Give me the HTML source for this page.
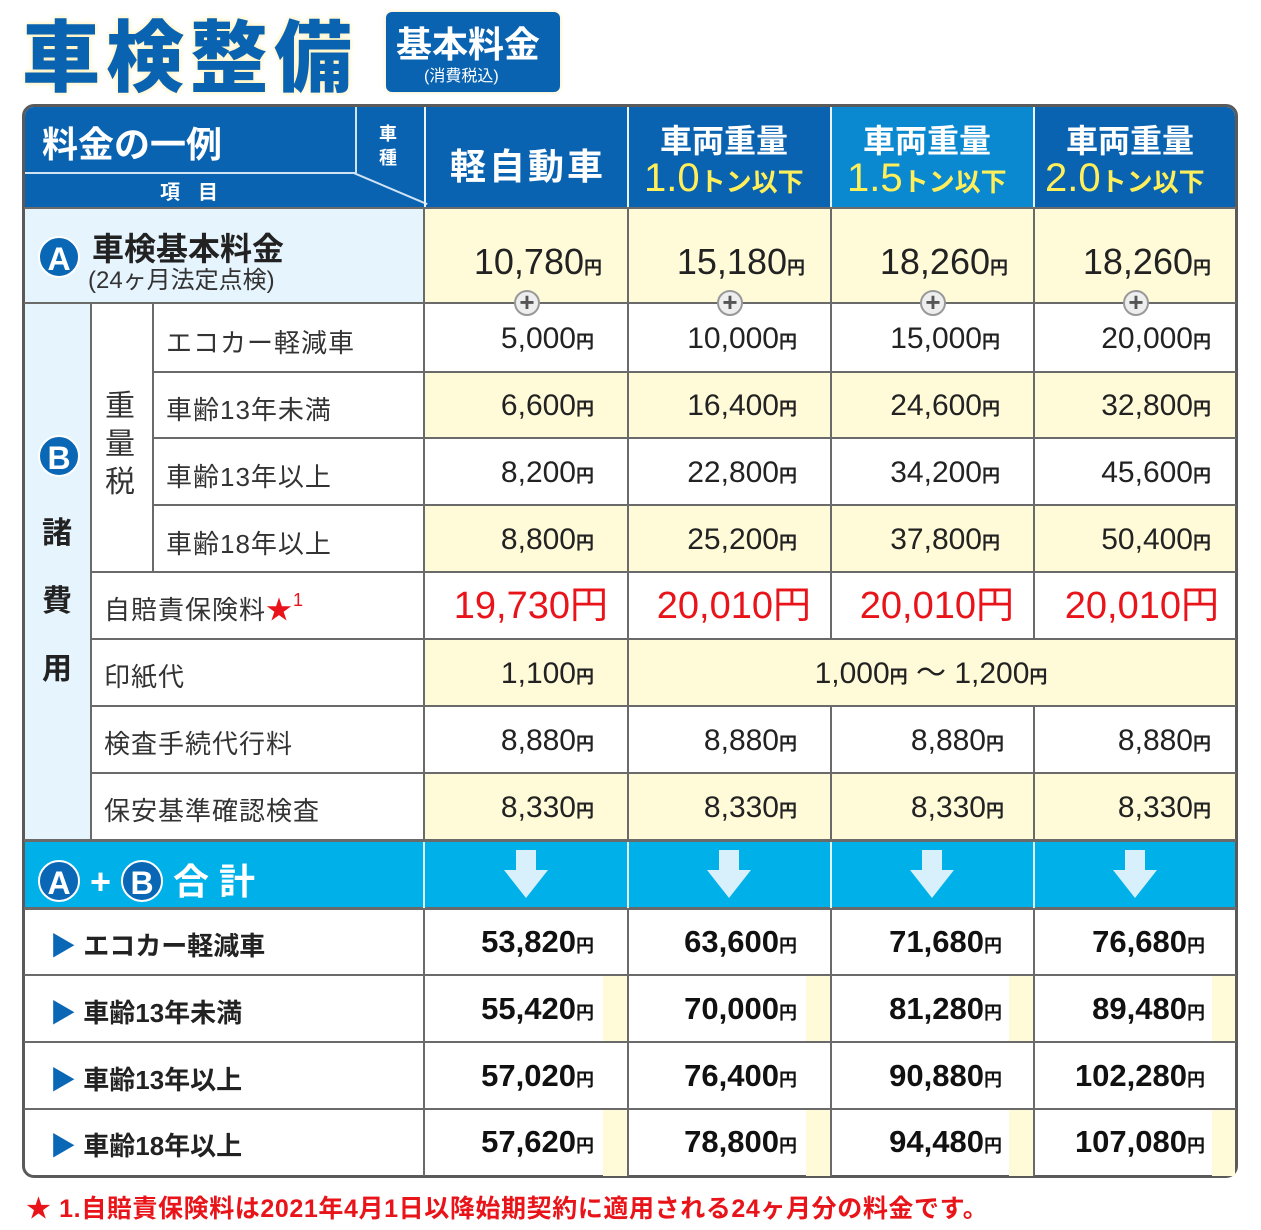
<!DOCTYPE html>
<html><head><meta charset="utf-8"><style>
*{margin:0;padding:0;box-sizing:border-box}
body{width:1261px;height:1230px;background:#fff;position:relative;overflow:hidden;font-family:"Liberation Sans","Noto Sans CJK JP",sans-serif}
.a{position:absolute}
.t{position:absolute;white-space:nowrap}
.hl{position:absolute;left:24px;width:1212px;height:2px;background:#6a6a6a}
.vl{position:absolute;width:2px;background:#6a6a6a}
.v{position:absolute;text-align:right;white-space:nowrap;color:#222;font-size:30px;line-height:30px}
.v small{font-size:18px;font-weight:bold}
.tot{font-weight:bold;color:#111;font-size:31px}
.lab{position:absolute;font-size:26px;color:#333;white-space:nowrap;letter-spacing:1px}
.red{color:#e8141a;font-size:38px;line-height:38px}
.red small{font-size:38px;font-weight:normal}
.plus{position:absolute;width:26px;height:26px;border-radius:50%;background:#eee;border:2px solid #999;color:#555;font-weight:bold;font-size:26px;line-height:20px;text-align:center}
.arr{position:absolute;width:44px;height:48px}
.circ{display:inline-block;width:42px;height:42px;border-radius:50%;background:#0a67b5;color:#fff;font-weight:bold;font-size:32px;line-height:42px;text-align:center;border:2px solid #fff}
</style></head><body>
<div class="t" style="left:22px;top:-4px;font-size:78px;font-weight:900;color:#0a63b1;letter-spacing:6px;text-shadow:0 0 4px #fff3c0,0 0 6px #fff3c0">車検整備</div>
<div class="a" style="left:386px;top:12px;width:174px;height:80px;background:#0a63b1;border-radius:6px;box-shadow:0 0 4px #f5e9b0"></div>
<div class="t" style="left:396px;top:16px;font-size:36px;font-weight:bold;color:#fff">基本料金</div>
<div class="t" style="left:424px;top:62px;font-size:16px;color:#fff">(消費税込)</div>

<div class="a" style="left:22px;top:104px;width:1216px;height:1074px;border:3px solid #5a5a5a;border-radius:12px;background:#fff;overflow:hidden">
 <div class="a" style="left:0;top:0;width:1212px;height:102px;background:#0a63b1"></div>
 <div class="a" style="left:805px;top:0;width:204px;height:102px;background:#0a88d0"></div>
 <div class="a" style="left:0;top:102px;width:400px;height:95px;background:#e6f4fd"></div>
 <div class="a" style="left:400px;top:102px;width:812px;height:95px;background:#fffbd9"></div>
 <div class="a" style="left:0;top:197px;width:66px;height:537px;background:#e6f4fd"></div>
 <div class="a" style="left:0;top:734px;width:1212px;height:68px;background:#00b0e8"></div>
</div>
<div class="a" style="left:425px;top:373px;width:810px;height:65px;background:#fffbd9"></div>
<div class="a" style="left:425px;top:506px;width:810px;height:66px;background:#fffbd9"></div>
<div class="a" style="left:425px;top:640px;width:810px;height:66px;background:#fffbd9"></div>
<div class="a" style="left:425px;top:774px;width:810px;height:66px;background:#fffbd9"></div>
<div class="a" style="left:603px;top:976px;width:24px;height:66px;background:#fffbd9"></div>
<div class="a" style="left:806px;top:976px;width:24px;height:66px;background:#fffbd9"></div>
<div class="a" style="left:1009px;top:976px;width:24px;height:66px;background:#fffbd9"></div>
<div class="a" style="left:1212px;top:976px;width:23px;height:66px;background:#fffbd9"></div>
<div class="a" style="left:603px;top:1110px;width:24px;height:66px;background:#fffbd9"></div>
<div class="a" style="left:806px;top:1110px;width:24px;height:66px;background:#fffbd9"></div>
<div class="a" style="left:1009px;top:1110px;width:24px;height:66px;background:#fffbd9"></div>
<div class="a" style="left:1212px;top:1110px;width:23px;height:66px;background:#fffbd9"></div>

<div class="a" style="left:355px;top:107px;width:2px;height:66px;background:#cfe3f5"></div>
<div class="a" style="left:25px;top:172px;width:330px;height:2px;background:#cfe3f5"></div>
<div class="a" style="left:354px;top:172px;width:80px;height:2px;background:#cfe3f5;transform-origin:0 0;transform:rotate(23deg)"></div>
<div class="a" style="left:424px;top:107px;width:2px;height:101px;background:#eaf4ff"></div>
<div class="a" style="left:627px;top:107px;width:2px;height:101px;background:#eaf4ff"></div>
<div class="a" style="left:830px;top:107px;width:2px;height:101px;background:#eaf4ff"></div>
<div class="a" style="left:1033px;top:107px;width:2px;height:101px;background:#eaf4ff"></div>

<div class="hl" style="top:207px"></div>
<div class="hl" style="top:302px"></div>
<div class="a" style="left:152px;top:371px;width:1084px;height:2px;background:#6a6a6a"></div>
<div class="a" style="left:152px;top:437px;width:1084px;height:2px;background:#6a6a6a"></div>
<div class="a" style="left:152px;top:504px;width:1084px;height:2px;background:#6a6a6a"></div>
<div class="a" style="left:90px;top:571px;width:1146px;height:2px;background:#6a6a6a"></div>
<div class="a" style="left:90px;top:638px;width:1146px;height:2px;background:#6a6a6a"></div>
<div class="a" style="left:90px;top:705px;width:1146px;height:2px;background:#6a6a6a"></div>
<div class="a" style="left:90px;top:772px;width:1146px;height:2px;background:#6a6a6a"></div>
<div class="hl" style="top:839px;height:3px"></div>
<div class="hl" style="top:907px;height:3px"></div>
<div class="hl" style="top:974px"></div>
<div class="hl" style="top:1041px"></div>
<div class="hl" style="top:1108px"></div>
<div class="vl" style="left:90px;top:303px;height:537px"></div>
<div class="vl" style="left:152px;top:303px;height:269px"></div>
<div class="vl" style="left:423px;top:208px;height:968px"></div>
<div class="vl" style="left:627px;top:208px;height:968px"></div>
<div class="vl" style="left:830px;top:208px;height:432px"></div>
<div class="vl" style="left:830px;top:706px;height:470px"></div>
<div class="vl" style="left:1033px;top:208px;height:432px"></div>
<div class="vl" style="left:1033px;top:706px;height:470px"></div>
<div class="a" style="left:627px;top:842px;width:2px;height:66px;background:#e0f6ff"></div>
<div class="a" style="left:830px;top:842px;width:2px;height:66px;background:#e0f6ff"></div>
<div class="a" style="left:1033px;top:842px;width:2px;height:66px;background:#e0f6ff"></div>
<div class="a" style="left:423px;top:842px;width:2px;height:66px;background:#e0f6ff"></div>

<div class="t" style="left:42px;top:116px;font-size:36px;color:#fff;font-weight:bold">料金の一例</div>
<div class="t" style="left:160px;top:176px;font-size:20px;color:#fff;font-weight:bold;letter-spacing:18px">項目</div>
<div class="t" style="left:379px;top:122px;font-size:18px;color:#fff;font-weight:bold;line-height:24px;width:20px;white-space:normal">車種</div>
<div class="t" style="left:450px;top:138px;font-size:36px;color:#fff;font-weight:bold;letter-spacing:3px">軽自動車</div>
<div class="t" style="left:660px;top:116px;font-size:32px;color:#fff;font-weight:bold">車両重量</div>
<div class="t" style="left:644px;top:156px;color:#ffef5a;white-space:nowrap"><span style="font-size:40px">1.0</span><span style="font-size:26px;font-weight:bold">トン以下</span></div>
<div class="t" style="left:863px;top:116px;font-size:32px;color:#fff;font-weight:bold">車両重量</div>
<div class="t" style="left:847px;top:156px;color:#ffef5a;white-space:nowrap"><span style="font-size:40px">1.5</span><span style="font-size:26px;font-weight:bold">トン以下</span></div>
<div class="t" style="left:1066px;top:116px;font-size:32px;color:#fff;font-weight:bold">車両重量</div>
<div class="t" style="left:1045px;top:156px;color:#ffef5a;white-space:nowrap"><span style="font-size:40px">2.0</span><span style="font-size:26px;font-weight:bold">トン以下</span></div>

<div class="t" style="left:38px;top:236px"><span class="circ">A</span></div>
<div class="t" style="left:92px;top:224px;font-size:32px;font-weight:bold;color:#222">車検基本料金</div>
<div class="t" style="left:88px;top:260px;font-size:24px;color:#333">(24ヶ月法定点検)</div>
<div class="v" style="left:424px;width:178px;top:244px;font-size:36px;line-height:36px">10,780<small>円</small></div>
<div class="v" style="left:627px;width:178px;top:244px;font-size:36px;line-height:36px">15,180<small>円</small></div>
<div class="v" style="left:830px;width:178px;top:244px;font-size:36px;line-height:36px">18,260<small>円</small></div>
<div class="v" style="left:1033px;width:178px;top:244px;font-size:36px;line-height:36px">18,260<small>円</small></div>
<div class="plus" style="left:514px;top:290px">+</div>
<div class="plus" style="left:717px;top:290px">+</div>
<div class="plus" style="left:920px;top:290px">+</div>
<div class="plus" style="left:1123px;top:290px">+</div>

<div class="t" style="left:38px;top:435px"><span class="circ">B</span></div>
<div class="t" style="left:42px;top:500px;font-size:30px;font-weight:bold;color:#222;line-height:68px;width:32px;white-space:normal">諸費用</div>
<div class="t" style="left:105px;top:388px;font-size:30px;color:#333;line-height:38px;width:32px;white-space:normal">重量税</div>

<div class="lab" style="left:166px;top:323px">エコカー軽減車</div>
<div class="lab" style="left:166px;top:390px">車齢13年未満</div>
<div class="lab" style="left:166px;top:457px">車齢13年以上</div>
<div class="lab" style="left:166px;top:524px">車齢18年以上</div>
<div class="lab" style="left:104px;top:590px">自賠責保険料<span style="color:#e8141a">★<small style="font-size:18px;vertical-align:top">1</small></span></div>
<div class="lab" style="left:104px;top:657px">印紙代</div>
<div class="lab" style="left:104px;top:724px">検査手続代行料</div>
<div class="lab" style="left:104px;top:791px">保安基準確認検査</div>

<div class="v" style="left:424px;width:170px;top:324px">5,000<small>円</small></div>
<div class="v" style="left:627px;width:170px;top:324px">10,000<small>円</small></div>
<div class="v" style="left:830px;width:170px;top:324px">15,000<small>円</small></div>
<div class="v" style="left:1033px;width:178px;top:324px">20,000<small>円</small></div>
<div class="v" style="left:424px;width:170px;top:391px">6,600<small>円</small></div>
<div class="v" style="left:627px;width:170px;top:391px">16,400<small>円</small></div>
<div class="v" style="left:830px;width:170px;top:391px">24,600<small>円</small></div>
<div class="v" style="left:1033px;width:178px;top:391px">32,800<small>円</small></div>
<div class="v" style="left:424px;width:170px;top:458px">8,200<small>円</small></div>
<div class="v" style="left:627px;width:170px;top:458px">22,800<small>円</small></div>
<div class="v" style="left:830px;width:170px;top:458px">34,200<small>円</small></div>
<div class="v" style="left:1033px;width:178px;top:458px">45,600<small>円</small></div>
<div class="v" style="left:424px;width:170px;top:525px">8,800<small>円</small></div>
<div class="v" style="left:627px;width:170px;top:525px">25,200<small>円</small></div>
<div class="v" style="left:830px;width:170px;top:525px">37,800<small>円</small></div>
<div class="v" style="left:1033px;width:178px;top:525px">50,400<small>円</small></div>
<div class="v red" style="left:424px;width:184px;top:587px">19,730<small>円</small></div>
<div class="v red" style="left:627px;width:184px;top:587px">20,010<small>円</small></div>
<div class="v red" style="left:830px;width:184px;top:587px">20,010<small>円</small></div>
<div class="v red" style="left:1033px;width:186px;top:587px">20,010<small>円</small></div>
<div class="v" style="left:424px;width:170px;top:659px">1,100<small>円</small></div>
<div class="v" style="left:627px;width:608px;top:659px;text-align:center">1,000<small>円</small> ～ 1,200<small>円</small></div>
<div class="v" style="left:424px;width:170px;top:726px">8,880<small>円</small></div>
<div class="v" style="left:627px;width:170px;top:726px">8,880<small>円</small></div>
<div class="v" style="left:830px;width:174px;top:726px">8,880<small>円</small></div>
<div class="v" style="left:1033px;width:178px;top:726px">8,880<small>円</small></div>
<div class="v" style="left:424px;width:170px;top:793px">8,330<small>円</small></div>
<div class="v" style="left:627px;width:170px;top:793px">8,330<small>円</small></div>
<div class="v" style="left:830px;width:174px;top:793px">8,330<small>円</small></div>
<div class="v" style="left:1033px;width:178px;top:793px">8,330<small>円</small></div>

<div class="t" style="left:38px;top:853px;color:#fff;font-size:36px;font-weight:bold"><span class="circ">A</span> + <span class="circ">B</span> 合 計</div>
<svg class="arr" style="left:504px;top:850px" viewBox="0 0 44 48"><path d="M12 0H32V20H44L22 48L0 20H12Z" fill="#d8f0fb"/></svg>
<svg class="arr" style="left:707px;top:850px" viewBox="0 0 44 48"><path d="M12 0H32V20H44L22 48L0 20H12Z" fill="#d8f0fb"/></svg>
<svg class="arr" style="left:910px;top:850px" viewBox="0 0 44 48"><path d="M12 0H32V20H44L22 48L0 20H12Z" fill="#d8f0fb"/></svg>
<svg class="arr" style="left:1113px;top:850px" viewBox="0 0 44 48"><path d="M12 0H32V20H44L22 48L0 20H12Z" fill="#d8f0fb"/></svg>

<div class="t" style="left:50px;top:926px;font-size:26px;font-weight:bold;color:#222"><span style="color:#0a67b5">▶</span> エコカー軽減車</div>
<div class="t" style="left:50px;top:993px;font-size:26px;font-weight:bold;color:#222"><span style="color:#0a67b5">▶</span> 車齢13年未満</div>
<div class="t" style="left:50px;top:1060px;font-size:26px;font-weight:bold;color:#222"><span style="color:#0a67b5">▶</span> 車齢13年以上</div>
<div class="t" style="left:50px;top:1126px;font-size:26px;font-weight:bold;color:#222"><span style="color:#0a67b5">▶</span> 車齢18年以上</div>

<div class="v tot" style="left:424px;width:170px;top:927px">53,820<small>円</small></div>
<div class="v tot" style="left:627px;width:170px;top:927px">63,600<small>円</small></div>
<div class="v tot" style="left:830px;width:172px;top:927px">71,680<small>円</small></div>
<div class="v tot" style="left:1033px;width:172px;top:927px">76,680<small>円</small></div>
<div class="v tot" style="left:424px;width:170px;top:994px">55,420<small>円</small></div>
<div class="v tot" style="left:627px;width:170px;top:994px">70,000<small>円</small></div>
<div class="v tot" style="left:830px;width:172px;top:994px">81,280<small>円</small></div>
<div class="v tot" style="left:1033px;width:172px;top:994px">89,480<small>円</small></div>
<div class="v tot" style="left:424px;width:170px;top:1061px">57,020<small>円</small></div>
<div class="v tot" style="left:627px;width:170px;top:1061px">76,400<small>円</small></div>
<div class="v tot" style="left:830px;width:172px;top:1061px">90,880<small>円</small></div>
<div class="v tot" style="left:1033px;width:172px;top:1061px">102,280<small>円</small></div>
<div class="v tot" style="left:424px;width:170px;top:1127px">57,620<small>円</small></div>
<div class="v tot" style="left:627px;width:170px;top:1127px">78,800<small>円</small></div>
<div class="v tot" style="left:830px;width:172px;top:1127px">94,480<small>円</small></div>
<div class="v tot" style="left:1033px;width:172px;top:1127px">107,080<small>円</small></div>

<div class="t" style="left:26px;top:1189px;font-size:25px;font-weight:bold;color:#e8141a;letter-spacing:0.6px">★ 1.自賠責保険料は2021年4月1日以降始期契約に適用される24ヶ月分の料金です。</div>
</body></html>
